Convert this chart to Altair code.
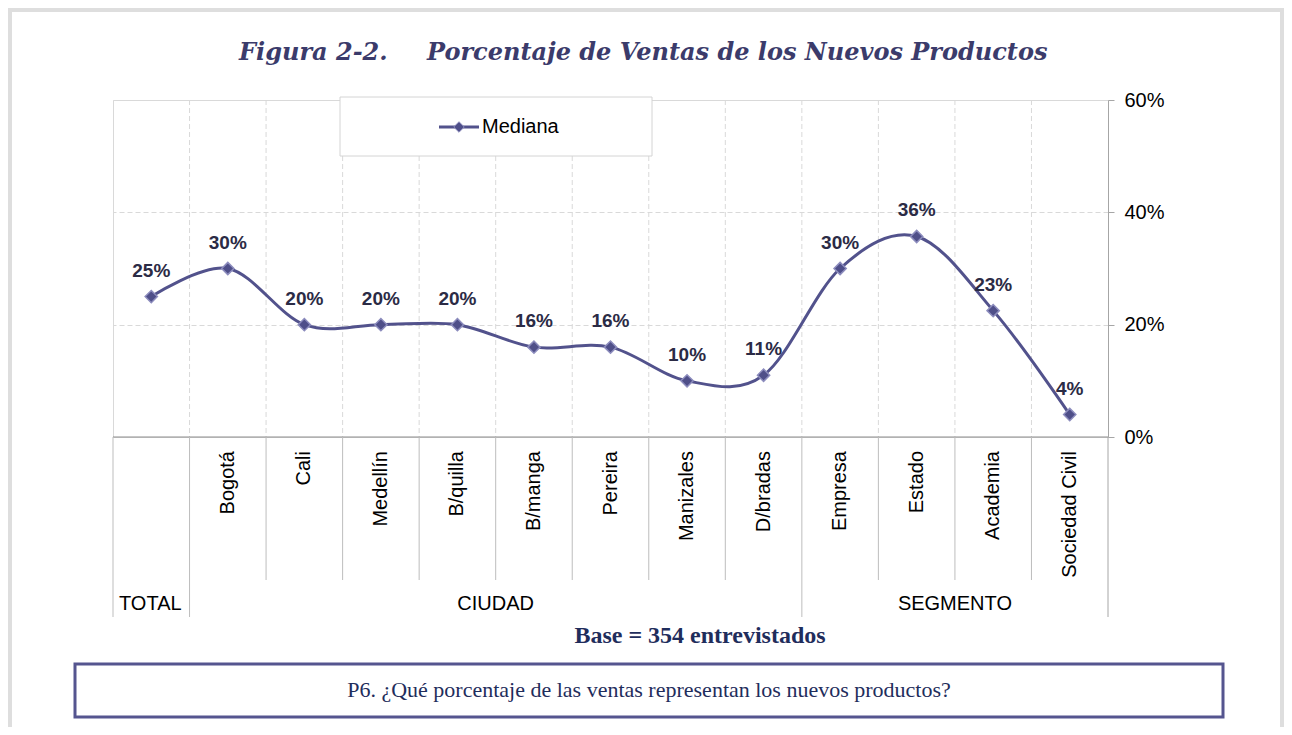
import altair as alt
import pandas as pd

# ---------------- data ----------------
categories = ["TOTAL", "Bogotá", "Cali", "Medellín", "B/quilla", "B/manga", "Pereira",
              "Manizales", "D/bradas", "Empresa", "Estado", "Academia", "Sociedad Civil"]
medians = [25, 30, 20, 20, 20, 16, 16, 10, 11, 30, 35.7, 22.5, 4]
value_labels = ["25%", "30%", "20%", "20%", "20%", "16%", "16%", "10%", "11%",
                "30%", "36%", "23%", "4%"]
y_ticks = [0, 20, 40, 60]

group_names = ["CIUDAD", "SEGMENTO"]
group_center_cat = ["B/manga", "Academia"]   # group label sits at the left edge of this band
total_label = ["TOTAL"]

short_sep_cats = ["Cali", "Medellín", "B/quilla", "B/manga", "Pereira", "Manizales",
                  "D/bradas", "Estado", "Academia", "Sociedad Civil"]
long_sep_left_cats = ["TOTAL", "Bogotá", "Empresa"]
long_sep_right_cats = ["Sociedad Civil"]
grid_cats = categories[1:]

title_a = "Figura 2-2."
title_b = "Porcentaje de Ventas de los Nuevos Productos"
legend_text = "Mediana"
base_text = "Base = 354  entrevistados"
question_text = "P6. ¿Qué porcentaje de las ventas representan los nuevos productos?"

# ---------------- styling ----------------
W, H = 995, 337
LINE_COL = "#52528c"
MARK_FILL = "#4f4f89"
MARK_STROKE = "#8c8cbd"
LABEL_COL = "#2b2b45"
NAVY = "#1f2d5c"
SANS = "Liberation Sans"
SERIF = "Liberation Serif"

df = pd.DataFrame({"cat": categories, "value": medians, "label": value_labels})
one = pd.DataFrame({"k": [0]})

x_scale = alt.Scale(type="band", domain=categories, paddingInner=0, paddingOuter=0)


def xcat(bp):
    return alt.X("cat:N", scale=x_scale, sort=categories, axis=None, bandPosition=bp)


y_enc = alt.Y(
    "value:Q",
    scale=alt.Scale(domain=[0, 60], nice=False),
    axis=alt.Axis(
        orient="right", values=y_ticks, labelExpr="datum.value + '%'", title=None,
        labelFont=SANS, labelFontSize=20, labelColor="#000000", labelPadding=10,
        domainColor="#a6a6a6", tickColor="#a6a6a6", tickSize=6,
        grid=True, gridColor="#d9d9d9", gridDash=[5, 3],
    ),
)

# frame
frame = alt.Chart(one).mark_rect(fillOpacity=0, stroke="#dedede", strokeWidth=6).encode(
    x=alt.value(-104), x2=alt.value(1170), y=alt.value(-91), y2=alt.value(700)
)

# vertical dashed grid in plot area
vgrid = alt.Chart(pd.DataFrame({"cat": grid_cats})).mark_rule(
    color="#d9d9d9", strokeDash=[5, 3], strokeWidth=1
).encode(x=xcat(0), y=alt.value(0), y2=alt.value(H))

# legend
leg_box = alt.Chart(one).mark_rect(fill="white", stroke="#d4d4d4", strokeWidth=1).encode(
    x=alt.value(227), x2=alt.value(539), y=alt.value(-3), y2=alt.value(56)
)
leg_line = alt.Chart(one).mark_rule(color=LINE_COL, strokeWidth=3).encode(
    x=alt.value(326), x2=alt.value(366), y=alt.value(27)
)
leg_pt = alt.Chart(one).mark_point(shape="diamond", filled=True, size=110, fill=MARK_FILL,
                                   stroke=MARK_STROKE, strokeWidth=1, opacity=1).encode(
    x=alt.value(346), y=alt.value(27)
)
leg_txt = alt.Chart(one).mark_text(text=legend_text, font=SANS, fontSize=20, color="#000000",
                                   align="left", baseline="middle").encode(
    x=alt.value(369), y=alt.value(27)
)

# bottom axis line
bottom = alt.Chart(one).mark_rule(color="#8c8c8c", strokeWidth=1).encode(
    x=alt.value(0), x2=alt.value(W), y=alt.value(H)
)

# category separators below the plot
short_sep = alt.Chart(pd.DataFrame({"cat": short_sep_cats})).mark_rule(
    color="#bdbdbd", strokeWidth=1
).encode(x=xcat(0), y=alt.value(H), y2=alt.value(480))
long_sep_l = alt.Chart(pd.DataFrame({"cat": long_sep_left_cats})).mark_rule(
    color="#bdbdbd", strokeWidth=1
).encode(x=xcat(0), y=alt.value(H), y2=alt.value(517))
long_sep_r = alt.Chart(pd.DataFrame({"cat": long_sep_right_cats})).mark_rule(
    color="#a6a6a6", strokeWidth=1
).encode(x=xcat(1), y=alt.value(H), y2=alt.value(517))

# category labels (rotated)
cat_lbl = alt.Chart(pd.DataFrame({"cat": categories[1:]})).mark_text(
    font=SANS, fontSize=20, color="#000000", angle=270, align="right", baseline="middle"
).encode(x=xcat(0.5), y=alt.value(351), text="cat:N")

# group labels
grp_lbl = alt.Chart(pd.DataFrame({"cat": group_center_cat, "name": group_names})).mark_text(
    font=SANS, fontSize=20, color="#000000", align="center", baseline="middle"
).encode(x=xcat(0), y=alt.value(504), text="name:N")
tot_lbl = alt.Chart(pd.DataFrame({"cat": ["TOTAL"], "name": total_label})).mark_text(
    font=SANS, fontSize=20, color="#000000", align="left", baseline="middle", dx=6
).encode(x=xcat(0), y=alt.value(504), text="name:N")

# data
base = alt.Chart(df)
line = base.mark_line(color=LINE_COL, strokeWidth=3, interpolate="cardinal").encode(
    x=xcat(0.5), y=y_enc
)
pts = base.mark_point(shape="diamond", filled=True, size=150, fill=MARK_FILL,
                      stroke=MARK_STROKE, strokeWidth=1.5, opacity=1).encode(
    x=xcat(0.5), y="value:Q"
)
lbls = base.mark_text(font=SANS, fontSize=19, fontWeight="bold", color=LABEL_COL,
                      baseline="middle", dy=-26).encode(
    x=xcat(0.5), y="value:Q", text="label:N"
)

# titles & footnotes
t_a = alt.Chart(one).mark_text(text=title_a, font="DejaVu Serif", fontSize=24, fontStyle="italic",
                               fontWeight="bold", color="#3b3b6b", align="left",
                               baseline="alphabetic").encode(x=alt.value(126), y=alt.value(-40))
t_b = alt.Chart(one).mark_text(text=title_b, font="DejaVu Serif", fontSize=24, fontStyle="italic",
                               fontWeight="bold", color="#3b3b6b", align="left",
                               baseline="alphabetic").encode(x=alt.value(314), y=alt.value(-40))
base_t = alt.Chart(one).mark_text(text=base_text, font=SERIF, fontSize=24, fontWeight="bold",
                                  color=NAVY, align="center", baseline="middle").encode(
    x=alt.value(587), y=alt.value(536)
)
q_box = alt.Chart(one).mark_rect(fill="white", stroke="#55558f", strokeWidth=3).encode(
    x=alt.value(-38), x2=alt.value(1110), y=alt.value(564), y2=alt.value(617)
)
q_txt = alt.Chart(one).mark_text(text=question_text, font=SERIF, fontSize=22, color=NAVY,
                                 align="center", baseline="middle").encode(
    x=alt.value(536), y=alt.value(590)
)

chart = alt.layer(
    frame, vgrid, leg_box, leg_line, leg_pt, leg_txt, bottom,
    short_sep, long_sep_l, long_sep_r, cat_lbl, grp_lbl, tot_lbl,
    line, pts, lbls, t_a, t_b, base_t, q_box, q_txt
).properties(
    width=W, height=H,
    padding={"left": 105, "top": 92, "right": 176, "bottom": 290},
    autosize=alt.AutoSizeParams(type="none"),
).configure_view(stroke="#d9d9d9", strokeWidth=1)

chart.save("out.html", embed_options={"renderer": "svg", "actions": False})
